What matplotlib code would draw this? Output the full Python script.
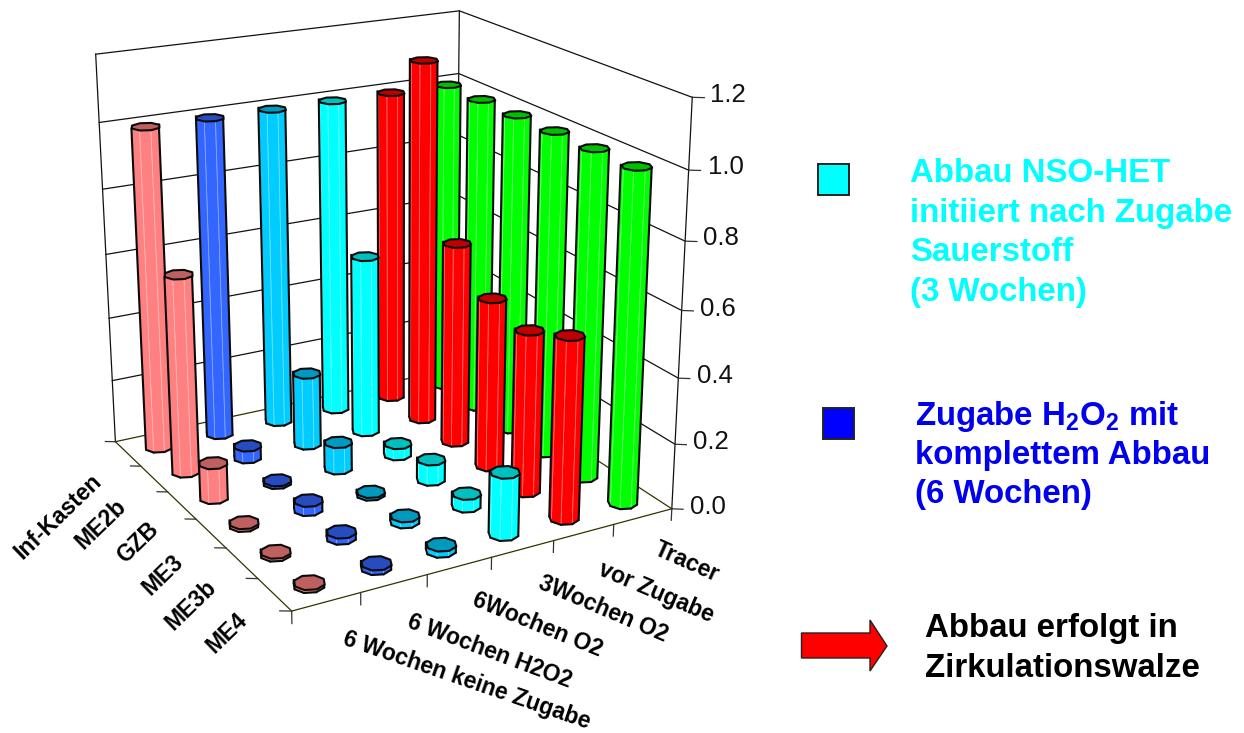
import numpy as np
import matplotlib
matplotlib.use("Agg")
import matplotlib.pyplot as plt
from matplotlib.colors import to_rgb
from matplotlib.patches import Polygon, Rectangle
from mpl_toolkits.mplot3d.art3d import Poly3DCollection, Line3DCollection

plt.rcParams["font.family"] = ["Liberation Sans", "DejaVu Sans"]
plt.rcParams["mathtext.fontset"] = "custom"
plt.rcParams["mathtext.bf"] = "Liberation Sans:bold"
plt.rcParams["mathtext.rm"] = "Liberation Sans:bold"

# ---- data -----------------------------------------------------------------
locations = ["Inf-Kasten", "ME2b", "GZB", "ME3", "ME3b", "ME4"]
stages = ["6 Wochen keine Zugabe", "6 Wochen H2O2", "6Wochen O2",
          "3Wochen O2", "vor Zugabe", "Tracer"]
keine_zugabe = [1.00, 0.615, 0.11, 0.01, 0.01, 0.01]
h2o2_6w = [1.00, 0.04, 0.01, 0.03, 0.02, 0.015]
o2_6w = [1.00, 0.232, 0.086, 0.01, 0.02, 0.02]
o2_3w = [1.00, 0.568, 0.038, 0.066, 0.041, 0.189]
vor_zugabe = [1.00, 1.143, 0.636, 0.529, 0.498, 0.551]
tracer = [1.00, 1.00, 1.00, 1.00, 1.00, 1.00]
z_ticks = [0.0, 0.2, 0.4, 0.6, 0.8, 1.0, 1.2]

series = [keine_zugabe, h2o2_6w, o2_6w, o2_3w, vor_zugabe, tracer]
side_colors = ["#FF8080", "#3366FF", "#00CCFF", "#00FFFF", "#FF0000", "#00FF00"]
top_colors = ["#BF6060", "#264CBF", "#0099BF", "#00BFBF", "#BF0000", "#00BF00"]

# ---- figure and fixed camera ----------------------------------------------
W, H = 1244, 733
fig = plt.figure(figsize=(W / 100, H / 100), dpi=100, facecolor="white")
ax = fig.add_axes([0, 0, 1, 1], projection="3d", computed_zorder=False)
ax.set_axis_off()
ax.patch.set_visible(False)
# keeps mplot3d from masking line points by depth; the matrix below sets the view
ax.set_proj_type("ortho")

# Camera matrix: (row, stage, value, 1) -> homogeneous image pixels, y downwards
CAMERA = np.array([
    [2.17524199e+01, 6.36962766e+01, -2.16076340e+01, 1.15392882e+02],
    [1.22528469e+01, -6.58672209e+00, -3.25849759e+02, 4.41676316e+02],
    [-2.61523405e-02, 1.53034438e-02, -5.42223853e-02, 1.00000000e+00],
])
EYE = np.linalg.svd(CAMERA)[2][-1]
EYE = EYE[:3] / EYE[3]


def fixed_projection():
    to_display = CAMERA.copy()
    to_display[1] = H * CAMERA[2] - CAMERA[1]
    top = ax.transData.inverted().get_matrix() @ to_display
    return np.array([top[0], top[1], [0, 0, 1, 0], top[2]])


ax.get_proj = fixed_projection

N_ROWS, N_STAGES, Z_MAX = len(locations), len(stages), z_ticks[-1]


def frame_line(points, color="#111111", lw=0.9):
    xs, ys, zs = zip(*points)
    ax.plot(xs, ys, zs, color=color, lw=lw, zorder=1, clip_on=False,
            solid_capstyle="projecting")


# walls and their gridlines
for z in z_ticks:
    frame_line([(0, 0, z), (0, N_STAGES, z), (N_ROWS, N_STAGES, z)],
               "#333300" if z == 0 else "#111111")
for corner in [(0, 0), (0, N_STAGES), (N_ROWS, N_STAGES)]:
    frame_line([(*corner, 0), (*corner, Z_MAX)])

# floor edges towards the viewer
frame_line([(0, 0, 0), (N_ROWS, 0, 0), (N_ROWS, N_STAGES, 0)], "#333300")

# tick marks
TICK_COLOR = "#333333"
for i in range(N_ROWS + 1):
    frame_line([(i, 0, 0), (i - 0.08, -0.13, 0)], TICK_COLOR)
for j in range(N_STAGES + 1):
    frame_line([(N_ROWS, j, 0), (N_ROWS, j, -0.036)], TICK_COLOR)
for z in z_ticks:
    frame_line([(N_ROWS, N_STAGES, z), (N_ROWS + 0.09, N_STAGES + 0.13, z)], TICK_COLOR)

# ---- octagonal columns ----------------------------------------------------
RADIUS = 0.21
SIDES = 8
angles = np.deg2rad(45 * np.arange(SIDES))


def lighten(color, amount=0.4):
    rgb = np.array(to_rgb(color))
    return tuple(rgb + (1 - rgb) * amount)


def add_column(row, stage, value, order):
    cu, cv = row + 0.5, stage + 0.5
    ring = np.c_[cu + RADIUS * np.cos(angles), cv + RADIUS * np.sin(angles)]
    faces, outline, visible = [], [], []
    for k in range(SIDES):
        a, b = ring[k], ring[(k + 1) % SIDES]
        mid = (a + b) / 2
        normal = np.r_[mid - [cu, cv], 0]
        visible.append(np.dot(EYE - np.r_[mid, value / 2], normal) > 0)
    for k in range(SIDES):
        if not visible[k]:
            continue
        a, b = ring[k], ring[(k + 1) % SIDES]
        faces.append([(*a, 0), (*b, 0), (*b, value), (*a, value)])
        outline.append([(*a, 0), (*b, 0)])
        if not visible[k - 1]:
            outline.append([(*a, 0), (*a, value)])
        if not visible[(k + 1) % SIDES]:
            outline.append([(*b, 0), (*b, value)])
    body = Poly3DCollection(faces, facecolors=side_colors[stage],
                            edgecolors=[lighten(side_colors[stage])],
                            linewidths=0.6, zorder=order)
    body.set_clip_on(False)
    ax.add_collection3d(body, autolim=False)
    edge = Line3DCollection(outline, colors="#0A0A0A", linewidths=1.5, zorder=order + 0.1,
                            capstyle="round")
    edge.set_clip_on(False)
    ax.add_collection3d(edge, autolim=False)
    cap = Poly3DCollection([[(*p, value) for p in ring]], facecolors=top_colors[stage],
                           edgecolors="#0A0A0A", linewidths=1.5, zorder=order + 0.2)
    cap.set_clip_on(False)
    ax.add_collection3d(cap, autolim=False)


# far columns first, so nearer ones paint over them
cells = sorted(((r, s) for r in range(N_ROWS) for s in range(N_STAGES)),
               key=lambda c: c[0] - c[1])
for n, (r, s) in enumerate(cells):
    add_column(r, s, series[s][r], 2 + n)

# ---- flat overlay in image pixels: labels and key -------------------------
ov = fig.add_axes([0, 0, 1, 1], facecolor="none")
ov.set_xlim(0, W)
ov.set_ylim(H, 0)
ov.set_axis_off()

for z, x, y in zip(z_ticks, [690, 693, 697, 700, 703, 708, 710],
                   [507, 442, 376, 309, 238, 167, 95]):
    ov.text(x, y, f"{z:.1f}", fontsize=18.5, ha="left", va="center", color="#111111")

LABEL_SIZE = 16.5
row_labels = [(58, 517, 44), (101, 524, 44), (138, 543, 44), (163, 575, 44),
              (191, 605, 44), (227, 633, 44)]
for name, (x, y, rot) in zip(locations, row_labels):
    ov.text(x, y, name, fontsize=LABEL_SIZE, fontweight="bold", rotation=rot,
            rotation_mode="anchor", ha="center", va="center")

stage_labels = [(467, 680, -19), (490, 651, -20.5), (537, 625, -22),
                (603, 609, -23), (656, 592, -23), (687, 562, -24)]
for name, (x, y, rot) in zip(stages, stage_labels):
    ov.text(x, y, name, fontsize=LABEL_SIZE, fontweight="bold", rotation=rot,
            rotation_mode="anchor", ha="center", va="center")

KEY_SIZE = 23.8
for x, baseline, text, color in [
    (910, 182, "Abbau NSO-HET", "#00FFFF"),
    (910, 222, "initiiert nach Zugabe", "#00FFFF"),
    (910, 261, "Sauerstoff", "#00FFFF"),
    (910, 301, "(3 Wochen)", "#00FFFF"),
    (915, 425, r"Zugabe H$\mathbf{_2}$O$\mathbf{_2}$ mit", "#0000EE"),
    (915, 464, "komplettem Abbau", "#0000EE"),
    (915, 503, "(6 Wochen)", "#0000EE"),
    (925, 637, "Abbau erfolgt in", "black"),
    (925, 677, "Zirkulationswalze", "black"),
]:
    ov.text(x, baseline, text, fontsize=KEY_SIZE, fontweight="bold", color=color,
            ha="left", va="baseline")

ov.add_patch(Rectangle((817.5, 163.5), 31.5, 31.5, fc="#00FFFF", ec="#222222", lw=1.4))
ov.add_patch(Rectangle((822.5, 407.5), 31.5, 31.5, fc="#0000FF", ec="#222222", lw=1.4))
ov.add_patch(Polygon([(801.5, 633), (870, 633), (870, 620), (887, 646),
                      (870, 671), (870, 658), (801.5, 658)],
                     closed=True, fc="#FF0000", ec="#222222", lw=1.0))

fig.savefig("out.png", dpi=100)
